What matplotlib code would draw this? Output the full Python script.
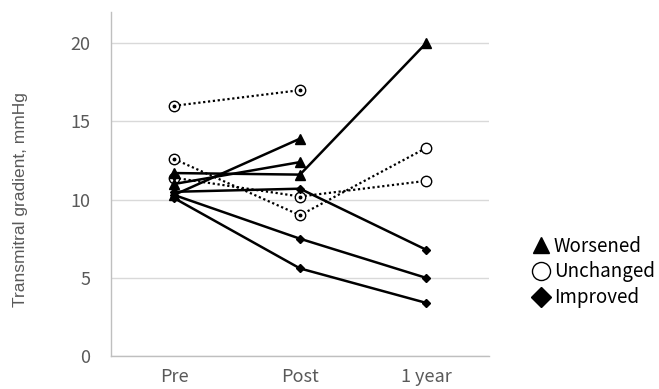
import numpy as np
import matplotlib
matplotlib.use('Agg')
import matplotlib.pyplot as plt
from matplotlib.lines import Line2D

plt.rcParams['font.family'] = ['Noto Sans CJK JP', 'DejaVu Sans']

stages = ['Pre', 'Post', '1 year']
yticks = [0, 5, 10, 15, 20]

# worsened (triangles, solid)
worse_1 = [10.3, 13.9, np.nan]
worse_2 = [11.0, 12.4, np.nan]
worse_3 = [11.7, 11.6, 20.0]
# unchanged (circles, dotted)
same_1 = [16.0, 17.0, np.nan]
same_2 = [12.6, 9.0, 13.3]
same_3 = [11.4, 10.2, 11.2]
# improved (diamonds, solid)
better_1 = [10.5, 10.7, 6.8]
better_2 = [10.3, 7.5, 5.0]
better_3 = [10.1, 5.6, 3.4]

fig = plt.figure(figsize=(6.59, 3.89), dpi=100)
ax = fig.add_axes([111/659, 1 - 356/389, (489 - 111)/659, (356 - 12)/389])

x = np.arange(len(stages))

for s in (same_1, same_2, same_3):
    ax.plot(x, s, linestyle=(0, (1, 1.2)), color='black', lw=1.6,
            marker='o', ms=7.5, mfc='white', mec='black', mew=1.0, zorder=3)
    # little centre dots seen on the first two points
    ax.plot(x[:2], s[:2], linestyle='none', marker='o', ms=1.8,
            color='black', zorder=4)

for s in (worse_1, worse_2, worse_3):
    ax.plot(x, s, color='black', lw=1.8, marker='^', ms=6.5, zorder=5)

for s in (better_1, better_2, better_3):
    ax.plot(x, s, color='black', lw=1.8, marker='D', ms=4.5, zorder=5)

ax.set_xlim(-0.5, 2.5)
ax.set_ylim(0, 22)
ax.set_yticks(yticks)
ax.set_xticks(x)
ax.set_xticklabels(stages)
ax.tick_params(axis='both', length=0, labelsize=13, colors='#595959')
ax.tick_params(axis='x', pad=9)
ax.tick_params(axis='y', pad=15)
ax.yaxis.grid(True, color='#d9d9d9', lw=1.0)
ax.set_axisbelow(True)
for side in ('top', 'right'):
    ax.spines[side].set_visible(False)
for side in ('left', 'bottom'):
    ax.spines[side].set_color('#bfbfbf')
    ax.spines[side].set_linewidth(1.0)

fig.text(21/659, 1 - 200/389, 'Transmitral gradient, mmHg', rotation=90,
         ha='center', va='center', fontsize=12.5, color='#595959',
         fontfamily='Liberation Sans')

handles = [
    Line2D([], [], linestyle='none', marker='^', ms=12, color='black'),
    Line2D([], [], linestyle='none', marker='o', ms=13, mfc='white', mec='black', mew=1.0),
    Line2D([], [], linestyle='none', marker='D', ms=10, color='black'),
]
fig.legend(handles, ['Worsened', 'Unchanged', 'Improved'],
           loc='center left', bbox_to_anchor=(524/659, 1 - 272/389),
           frameon=False, fontsize=13.5, handlelength=0.8, handletextpad=0.3,
           labelspacing=0.25, borderpad=0)

fig.savefig('out.png', dpi=100)
